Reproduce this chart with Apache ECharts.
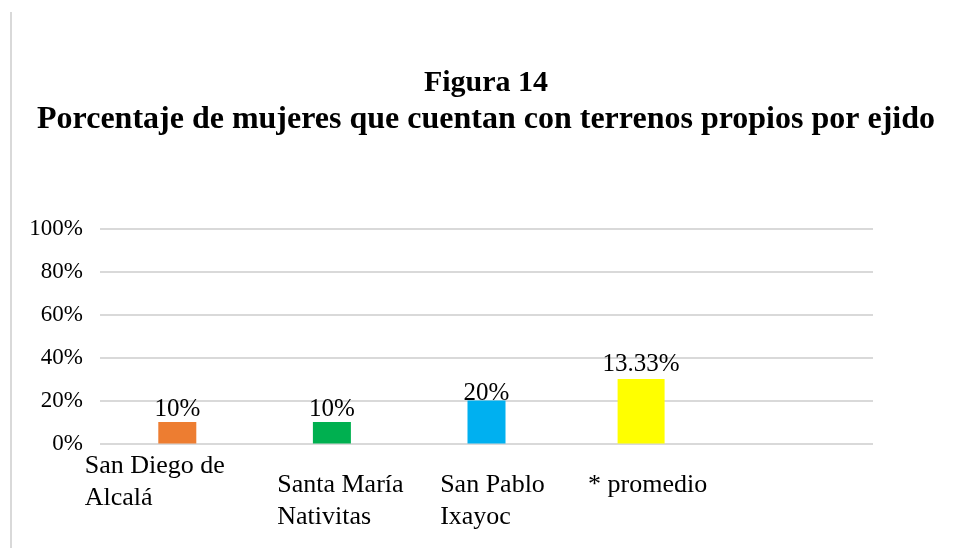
<!DOCTYPE html>
<html>
<head>
<meta charset="utf-8">
<script src="https://cdn.jsdelivr.net/npm/echarts@6/dist/echarts.min.js"></script>
<style>
  html, body { margin: 0; padding: 0; background: #ffffff; }
  #chart { width: 964px; height: 548px; }
</style>
</head>
<body>
<div id="chart"></div>
<script>
// ---- Data ----
const titleMain = 'Figura 14';
const titleSub = 'Porcentaje de mujeres que cuentan con terrenos propios por ejido';
const categories = ['San Diego de Alcalá', 'Santa María Nativitas', 'San Pablo Ixayoc', '* promedio', ''];
const categoryLines = [['San Diego de', 'Alcalá'], ['Santa María', 'Nativitas'], ['San Pablo', 'Ixayoc'], ['* promedio'], []];
const ejidoValues = [10, 10, 20, '-', '-'];
const promedioValues = ['-', '-', '-', 30, '-'];
const valueLabels = ['10%', '10%', '20%', '13.33%', ''];
const yTicks = [0, 20, 40, 60, 80, 100];

// ---- Styles ----
const barColors = ['#ED7D31', '#00B050', '#00B0F0', '#FFFF00', '#cccccc'];
const labelOffsetY = [0, 0, 5, -2, 0];
const catPad = [[0, 45, 0, 0], [0, 0, 0, 17], [0, 0, 0, 12], [0, 0, 0, 13], [0, 0, 0, 0]];
const catGap = [false, true, true, true, false];
const serif = '"Liberation Serif", "Times New Roman", serif';

const rich = { gap: { fontSize: 2, lineHeight: 19, height: 19 } };
categoryLines.forEach((lines, i) => {
  rich['c' + i] = {
    fontFamily: serif, fontSize: 26, lineHeight: 32, color: '#000',
    align: 'left', padding: catPad[i]
  };
});

const chart = echarts.init(document.getElementById('chart'), null, { renderer: 'canvas' });
const option = {
  backgroundColor: '#ffffff',
  animation: false,
  title: {
    text: '{a|' + titleMain + '}\n{b|' + titleSub + '}',
    left: 481,
    top: 60,
    textAlign: 'center',
    textStyle: {
      fontFamily: serif, fontWeight: 'bold', color: '#000',
      rich: {
        a: { fontFamily: serif, fontWeight: 'bold', fontSize: 30, lineHeight: 36, color: '#000' },
        b: { fontFamily: serif, fontWeight: 'bold', fontSize: 32, lineHeight: 38, color: '#000' }
      }
    }
  },
  graphic: [{
    type: 'line',
    shape: { x1: 11, y1: 12, x2: 11, y2: 548 },
    style: { stroke: '#d9d9d9', lineWidth: 2 },
    silent: true
  }],
  grid: { left: 100, right: 91, top: 228.5, bottom: 548 - 443.5, containLabel: false },
  xAxis: [{
    type: 'category',
    data: categories,
    axisLine: { show: false },
    axisTick: { show: false },
    axisLabel: {
      interval: 0,
      margin: 7,
      align: 'center',
      verticalAlign: 'top',
      formatter: function (value, index) {
        const lines = categoryLines[index] || [];
        if (!lines.length) return '';
        const body = lines.map(l => '{c' + index + '|' + l + '}').join('\n');
        return catGap[index] ? '{gap| }\n' + body : body;
      },
      rich: rich
    }
  }, {
    type: 'category',
    data: categories,
    show: false
  }],
  yAxis: {
    type: 'value',
    min: 0,
    max: 100,
    interval: 20,
    axisLine: { show: false },
    axisTick: { show: false },
    splitLine: { lineStyle: { color: '#d9d9d9', width: 2 } },
    axisLabel: {
      margin: 17,
      fontFamily: serif,
      fontSize: 23,
      color: '#000',
      formatter: v => yTicks.indexOf(v) >= 0 ? v + '%' : ''
    }
  },
  series: [{
    type: 'bar',
    xAxisIndex: 0,
    barWidth: 38,
    data: ejidoValues.map((v, i) => ({
      value: v,
      itemStyle: { color: barColors[i] },
      label: { offset: [0, labelOffsetY[i]] }
    })),
    label: {
      show: true,
      position: 'top',
      distance: 0,
      fontFamily: serif,
      fontSize: 25,
      color: '#000',
      formatter: p => valueLabels[p.dataIndex]
    }
  }, {
    type: 'bar',
    xAxisIndex: 1,
    barWidth: 47,
    data: promedioValues.map((v, i) => ({
      value: v,
      itemStyle: { color: barColors[i] },
      label: { offset: [0, labelOffsetY[i]] }
    })),
    label: {
      show: true,
      position: 'top',
      distance: 0,
      fontFamily: serif,
      fontSize: 25,
      color: '#000',
      formatter: p => valueLabels[p.dataIndex]
    }
  }]
};
chart.setOption(option);
</script>
</body>
</html>
